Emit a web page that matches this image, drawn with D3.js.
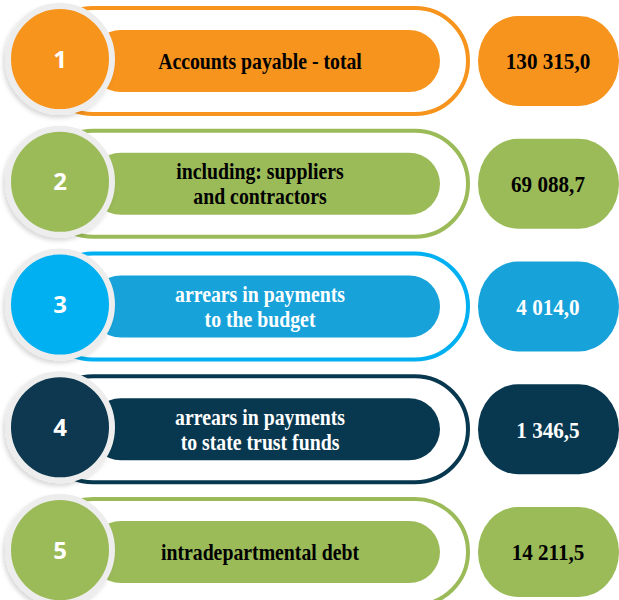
<!DOCTYPE html>
<html>
<head>
<meta charset="utf-8">
<script src="https://cdn.jsdelivr.net/npm/d3@7"></script>
<style>
  body { margin: 0; background: #fff; }
  svg { display: block; }
</style>
</head>
<body>
<svg></svg>
<script>
"use strict"

// data
const rowIds = ["1", "2", "3", "4", "5"]
const labels = [
  ["Accounts payable - total"],
  ["including: suppliers", "and contractors"],
  ["arrears in payments", "to the budget"],
  ["arrears in payments", "to state trust funds"],
  ["intradepartmental debt"]
]
const amounts = [130315.0, 69088.7, 4014.0, 1346.5, 14211.5]

// colours per row
const circleColors = ["#f7941d", "#9bbb59", "#00b0f0", "#07384f", "#9bbb59"]
const barColors = ["#f7941d", "#9bbb59", "#17a3da", "#07384f", "#9bbb59"]
const textColors = ["#000", "#000", "#fff", "#fff", "#000"]

let width = 619, height = 600
let svg = d3.select("svg").attr("width", width).attr("height", height)

let fmt = d3.formatLocale({decimal: ",", thousands: " ", grouping: [3]}).format(",.1f")

let rows = rowIds.map((id, i) => ({id, label: labels[i], value: amounts[i], i}))

let y = d3.scalePoint().domain(rowIds).range([61, 552])
let circleCol = d3.scaleOrdinal().domain(rowIds).range(circleColors)
let barCol = d3.scaleOrdinal().domain(rowIds).range(barColors)
let textCol = d3.scaleOrdinal().domain(rowIds).range(textColors)

let defs = svg.append("defs")
defs.append("filter").attr("id", "shadow")
  .attr("x", "-20%").attr("y", "-20%").attr("width", "140%").attr("height", "140%")
  .append("feDropShadow")
  .attr("dx", -2).attr("dy", 3).attr("stdDeviation", 2)
  .attr("flood-color", "#000").attr("flood-opacity", 0.15)

let g = svg.selectAll(".row")
  .data(rows)
  .join("g")
  .attr("class", "row")
  .attr("transform", d => "translate(0," + y(d.id) + ")")

/* outer outline */
g.append("rect")
  .attr("x", 40).attr("y", -53)
  .attr("width", 428).attr("height", 106)
  .attr("rx", 53).attr("ry", 53)
  .attr("fill", "#fff")
  .attr("stroke", d => circleCol(d.id))
  .attr("stroke-width", 4)

/* inner bar */
g.append("rect")
  .attr("x", 90).attr("y", -31)
  .attr("width", 350).attr("height", 62)
  .attr("rx", 31).attr("ry", 31)
  .attr("fill", d => barCol(d.id))

/* value pill */
g.append("rect")
  .attr("x", 478).attr("y", -45)
  .attr("width", 141).attr("height", 90)
  .attr("rx", 40).attr("ry", 45)
  .attr("fill", d => barCol(d.id))

/* number circle */
g.append("ellipse")
  .attr("cx", 60).attr("cy", -2)
  .attr("rx", 52).attr("ry", 53)
  .attr("fill", d => circleCol(d.id))
  .attr("stroke", "#eeeded")
  .attr("stroke-width", 6)
  .attr("filter", "url(#shadow)")

g.append("text")
  .attr("x", 60).attr("y", -2)
  .attr("dy", "0.36em")
  .attr("text-anchor", "middle")
  .attr("font-family", "'Open Sans', sans-serif")
  .attr("font-weight", "bold")
  .attr("font-size", 24)
  .attr("fill", "#fff")
  .text(d => d.id)

/* labels */
let lbl = g.append("text")
  .attr("text-anchor", "middle")
  .attr("font-family", "'Liberation Serif', serif")
  .attr("font-weight", "bold")
  .attr("font-size", 23)
  .attr("fill", d => textCol(d.id))
  .attr("transform", "translate(260,0) scale(0.86,1)")

lbl.selectAll("tspan")
  .data(d => d.label.map((t, j) => ({t, j, n: d.label.length})))
  .join("tspan")
  .attr("x", 0)
  .attr("y", d => (d.j - (d.n - 1) / 2) * 25)
  .attr("dy", "0.35em")
  .text(d => d.t)

/* values */
g.append("text")
  .attr("text-anchor", "middle")
  .attr("font-family", "'Liberation Serif', serif")
  .attr("font-weight", "bold")
  .attr("font-size", 24)
  .attr("fill", d => textCol(d.id))
  .attr("transform", "translate(548,0) scale(0.88,1)")
  .attr("dy", "0.35em")
  .text(d => fmt(d.value))
</script>
</body>
</html>
